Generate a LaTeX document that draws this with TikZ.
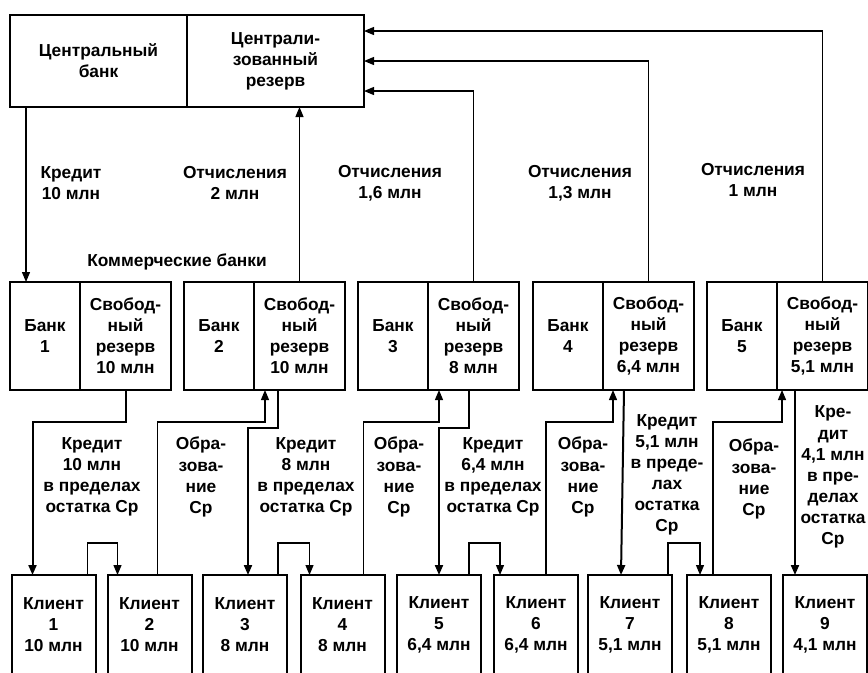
\documentclass[tikz,border=0pt]{standalone}
\usepackage{fontspec}
\setmainfont{Liberation Sans}
\usepackage{tikz}
\usetikzlibrary{arrows.meta, positioning, calc}

\begin{document}
\begin{tikzpicture}[
    x=0.75pt, y=-0.75pt,
    every node/.style={font=\fontsize{13}{15.8}\selectfont\bfseries, align=center},
    box/.style={draw, line width=1.5pt, outer sep=0pt, inner sep=0pt},
    cbbox/.style={box, minimum width=132.75pt, minimum height=69pt},
    bankbox/.style={box, minimum width=52.5pt, minimum height=81pt},
    resbox/.style={box, minimum width=68.25pt, minimum height=81pt},
    clientbox/.style={box, minimum width=63pt, minimum height=75pt},
    arrow/.style={-{Triangle[length=7.5pt, width=6pt]}, line width=0.9pt},
    credit/.style={arrow, line width=1.5pt},
    lbl/.style={inner sep=0pt}
]
\useasboundingbox (0,0) rectangle (868,672);
\clip (0,0) rectangle (868,672);

% Central bank
\node[cbbox, anchor=north west] (cb) at (10,15) {Центральный\\банк};
\node[cbbox, right=0pt of cb] (cr) {Централи-\\зованный\\резерв};

% Commercial banks
\node[bankbox, anchor=north west] (b1) at (10,282) {Банк\\1};
\node[resbox, right=0pt of b1] (r1) {Свобод-\\ный\\резерв\\10 млн};
\node[bankbox, anchor=north west] (b2) at (184,282) {Банк\\2};
\node[resbox, right=0pt of b2] (r2) {Свобод-\\ный\\резерв\\10 млн};
\node[bankbox, anchor=north west] (b3) at (358,282) {Банк\\3};
\node[resbox, right=0pt of b3] (r3) {Свобод-\\ный\\резерв\\8 млн};
\node[bankbox, anchor=north west] (b4) at (533,282) {Банк\\4};
\node[resbox, right=0pt of b4] (r4) {Свобод-\\ный\\резерв\\6,4 млн};
\node[bankbox, anchor=north west] (b5) at (707,282) {Банк\\5};
\node[resbox, right=0pt of b5] (r5) {Свобод-\\ный\\резерв\\5,1 млн};

% Clients
\node[clientbox, anchor=north] (c1) at (53.5,575) {Клиент\\1\\10 млн};
\node[clientbox, anchor=north] (c2) at (149.5,575) {Клиент\\2\\10 млн};
\node[clientbox, anchor=north] (c3) at (245,575) {Клиент\\3\\8 млн};
\node[clientbox, anchor=north] (c4) at (342.5,575) {Клиент\\4\\8 млн};
\node[clientbox, anchor=north] (c5) at (439,575) {Клиент\\5\\6,4 млн};
\node[clientbox, anchor=north] (c6) at (536,575) {Клиент\\6\\6,4 млн};
\node[clientbox, anchor=north] (c7) at (630,575) {Клиент\\7\\5,1 млн};
\node[clientbox, anchor=north] (c8) at (729,575) {Клиент\\8\\5,1 млн};
\node[clientbox, anchor=north] (c9) at (825,575) {Клиент\\9\\4,1 млн};

% Labels upper part
\node[lbl] (lk0) at (71,183) {Кредит\\10 млн};
\node[lbl] (lo2) at (235,183) {Отчисления\\2 млн};
\node[lbl] (lo3) at (390,183) {Отчисления\\1,6 млн};
\node[lbl] (lo4) at (580,183) {Отчисления\\1,3 млн};
\node[lbl] (lo5) at (753,180) {Отчисления\\1 млн};
\node[lbl] (lcom) at (177,262) {Коммерческие банки};

% Labels lower part
\node[lbl] (lc1) at (92,477) {Кредит\\10 млн\\в пределах\\остатка Ср};
\node[lbl] (lf2) at (201,477) {Обра-\\зова-\\ние\\Ср};
\node[lbl] (lc2) at (306,477) {Кредит\\8 млн\\в пределах\\остатка Ср};
\node[lbl] (lf3) at (399,477) {Обра-\\зова-\\ние\\Ср};
\node[lbl] (lc3) at (493,477) {Кредит\\6,4 млн\\в пределах\\остатка Ср};
\node[lbl] (lf4) at (583,477) {Обра-\\зова-\\ние\\Ср};
\node[lbl] (lc4) at (667,475) {Кредит\\5,1 млн\\в преде-\\лах\\остатка\\Ср};
\node[lbl] (lf5) at (754,479) {Обра-\\зова-\\ние\\Ср};
\node[lbl] (lc5) at (833,477) {Кре-\\дит\\4,1 млн\\в пре-\\делах\\остатка\\Ср};

% Central bank to bank 1
\draw[arrow] ($(cb.south west)+(16,0)$) -- ($(b1.north west)+(16,0)$);

% Deductions to the centralised reserve
\draw[arrow] (r2.north) -- (r2.north |- cr.south);
\draw[arrow] (r3.north) |- ($(cr.east)+(0,30)$);
\draw[arrow] (r4.north) |- (cr.east);
\draw[arrow] (r5.north) |- ($(cr.east)+(0,-30)$);

% Credits from free reserves
\draw[credit] (r1.south) -- ++(0,32) -| ($(c1.north west)+(21,0)$);
\draw[credit] ($(r2.south west)+(24,0)$) -- ++(0,38) -| ($(c3.north west)+(45,0)$);
\draw[credit] ($(r3.south west)+(41,0)$) -- ++(0,38) -| ($(c5.north west)+(42,0)$);
\draw[credit] ($(r4.south west)+(21,0)$) -- ($(c7.north west)+(33,0)$);
\draw[credit] ($(r5.south west)+(18,0)$) -- ($(c9.north west)+(12,0)$);

% Payments between clients
\draw[arrow] ($(c1.north east)+(-8,0)$) -- ++(0,-32) -| ($(c2.north west)+(10,0)$);
\draw[arrow] ($(c3.north east)+(-9,0)$) -- ++(0,-32) -| ($(c4.north west)+(9,0)$);
\draw[arrow] ($(c5.north east)+(-12,0)$) -- ++(0,-32) -| ($(c6.north west)+(6,0)$);
\draw[arrow] ($(c7.north east)+(-4,0)$) -- ++(0,-32) -| ($(c8.north west)+(13,0)$);

% Formation of free reserves
\draw[arrow] ($(c2.north west)+(50,0)$) -- ++(0,-153) -| ($(r2.south west)+(11,0)$);
\draw[arrow] ($(c4.north west)+(63,0)$) -- ++(0,-153) -| ($(r3.south west)+(11,0)$);
\draw[arrow] ($(c6.north west)+(52,0)$) -- ++(0,-153) -| ($(r4.south west)+(10,0)$);
\draw[arrow] ($(c8.north west)+(26,0)$) -- ++(0,-153) -| ($(r5.south west)+(5,0)$);

\end{tikzpicture}
\end{document}
